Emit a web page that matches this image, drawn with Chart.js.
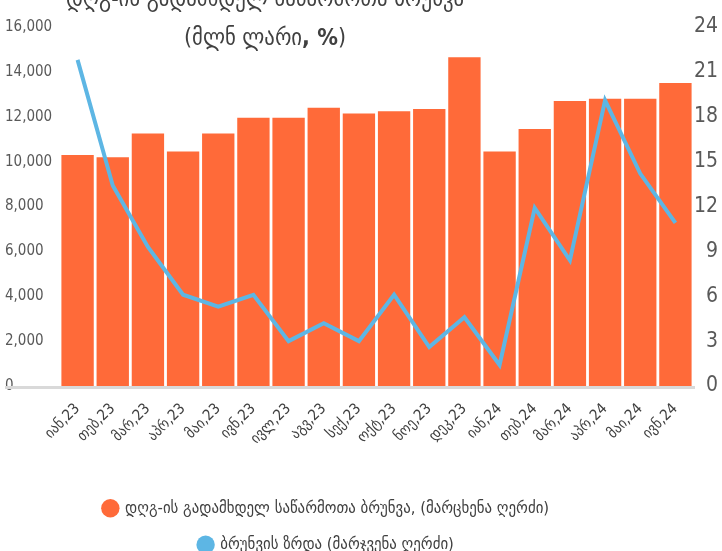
<!DOCTYPE html>
<html>
<head>
<meta charset="utf-8">
<script src="https://cdn.jsdelivr.net/npm/chart.js@4"></script>
<style>
  html, body { margin: 0; padding: 0; background: #fff; overflow: hidden; }
  #wrap { position: relative; width: 722px; height: 551px; overflow: hidden; }
  #title {
    position: absolute; left: 15px; top: -21px; width: 500px;
    text-align: center; color: #404040;
    font-family: 'DejaVu Sans Condensed', 'DejaVu Sans', sans-serif;
    font-size: 23px; line-height: 39px; z-index: 2;
  }
</style>
</head>
<body>
<div id="wrap">
  <div id="title">დღგ-ის გადამხდელ საწარმოთა ბრუნვა<br>(მლნ ლარი<b>, %</b>)</div>
  <canvas id="chart" width="722" height="551"></canvas>
</div>
<script>
// monthly categories
const months = ['იან,23', 'თებ,23', 'მარ,23', 'აპრ,23', 'მაი,23', 'ივნ,23', 'ივლ,23', 'აგვ,23', 'სექ,23',
  'ოქტ,23', 'ნოე,23', 'დეკ,23', 'იან,24', 'თებ,24', 'მარ,24', 'აპრ,24', 'მაი,24', 'ივნ,24'];

// turnover, mln GEL (left axis)
const turnover = [10300, 10200, 11250, 10450, 11250, 11950, 11950, 12400, 12150,
  12250, 12350, 14650, 10450, 11450, 12700, 12800, 12800, 13500];

// turnover growth, % (right axis)
const growth = [21.8, 13.4, 9.3, 6.1, 5.3, 6.1, 3.0, 4.2, 3.0,
  6.1, 2.6, 4.6, 1.4, 11.9, 8.4, 19.1, 14.2, 10.9];

const leftTicks = [0, 2000, 4000, 6000, 8000, 10000, 12000, 14000, 16000];
const rightTicks = [0, 3, 6, 9, 12, 15, 18, 21, 24];

const seriesNames = [
  'დღგ-ის გადამხდელ საწარმოთა ბრუნვა, (მარცხენა ღერძი)',
  'ბრუნვის ზრდა (მარჯვენა ღერძი)'
];

const ORANGE = '#FF6A39';
const BLUE = '#5DB6E4';
const NARROW = "'Liberation Sans Narrow', 'DejaVu Sans Condensed', sans-serif";
const GEO = "'DejaVu Sans Condensed', 'DejaVu Sans', sans-serif";

// gray category axis line, runs a bit past the plot on the left like the original
const baseLine = {
  id: 'baseLine',
  beforeDatasetsDraw(chart) {
    const { ctx, chartArea, scales } = chart;
    const y = scales.y.getPixelForValue(0) + 1.5;
    ctx.save();
    ctx.strokeStyle = '#d9d9d9';
    ctx.lineWidth = 3;
    ctx.beginPath();
    ctx.moveTo(5, y);
    ctx.lineTo(chartArea.right + 2, y);
    ctx.stroke();
    ctx.restore();
  }
};

// the legend in the original sits left of centre
const legendShift = {
  id: 'legendShift',
  afterLayout(chart) {
    chart.legend.left -= 35;
    chart.legend.right -= 35;
  }
};

new Chart(document.getElementById('chart'), {
  data: {
    labels: months,
    datasets: [
      {
        type: 'bar',
        label: seriesNames[0],
        data: turnover,
        yAxisID: 'y',
        backgroundColor: ORANGE,
        borderWidth: 0,
        categoryPercentage: 1,
        barPercentage: 0.92,
        order: 1
      },
      {
        type: 'line',
        label: seriesNames[1],
        data: growth,
        yAxisID: 'y1',
        borderColor: BLUE,
        backgroundColor: BLUE,
        borderWidth: 4,
        pointRadius: 0,
        tension: 0,
        order: 0
      }
    ]
  },
  options: {
    responsive: false,
    animation: false,
    layout: { padding: { left: 5, right: 4, top: 27, bottom: -12 } },
    plugins: {
      title: { display: false },
      tooltip: { enabled: false },
      legend: {
        position: 'bottom',
        labels: {
          usePointStyle: true,
          pointStyle: 'circle',
          boxWidth: 13,
          boxHeight: 13,
          padding: 20,
          color: '#404040',
          font: { family: GEO, size: 16.5 },
          sort: (a, b) => a.datasetIndex - b.datasetIndex,
          generateLabels(chart) {
            return Chart.defaults.plugins.legend.labels.generateLabels(chart).map(l => {
              l.lineWidth = 0;
              l.fillStyle = chart.data.datasets[l.datasetIndex].backgroundColor;
              return l;
            });
          }
        }
      }
    },
    scales: {
      x: {
        grid: { display: false },
        border: { display: false },
        ticks: {
          color: '#404040',
          font: { family: GEO, size: 15 },
          minRotation: 45,
          maxRotation: 45,
          padding: 6
        },
        afterFit(scale) { scale.height = 94; }
      },
      y: {
        position: 'left',
        min: 0,
        max: 16000,
        afterBuildTicks(scale) { scale.ticks = leftTicks.map(v => ({ value: v })); },
        grid: { display: false },
        border: { display: false },
        ticks: {
          color: '#595959',
          crossAlign: 'far',
          font: { family: NARROW, size: 15 },
          callback: v => v.toLocaleString('en-US')
        },
        afterFit(scale) { scale.width = 55; }
      },
      y1: {
        position: 'right',
        min: 0,
        max: 24,
        afterBuildTicks(scale) { scale.ticks = rightTicks.map(v => ({ value: v })); },
        grid: { display: false },
        border: { display: false },
        ticks: {
          color: '#595959',
          crossAlign: 'far',
          font: { family: NARROW, size: 21 }
        },
        afterFit(scale) { scale.width = 25; }
      }
    }
  },
  plugins: [baseLine, legendShift]
});
</script>
</body>
</html>
